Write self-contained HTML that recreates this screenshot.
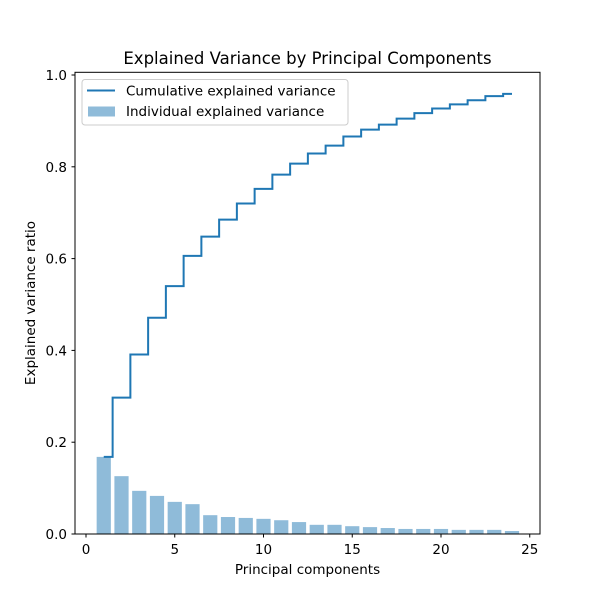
<!DOCTYPE html>
<html><head><meta charset="utf-8"><style>
body{margin:0;background:#fff}
svg{display:block;font-family:"DejaVu Sans","Liberation Sans",sans-serif}
</style></head><body>
<svg id="chart" width="600" height="600" viewBox="0 0 600 600">
<rect width="600" height="600" fill="#fff"/>
<g id="bars"></g>
<path id="cum" fill="none" stroke="#1f77b4" stroke-width="2" stroke-linejoin="miter"/>
<rect x="75" y="72.3" width="465" height="461.7" fill="none" stroke="#000" stroke-width="1"/>
<g id="xticks"></g>
<g id="yticks"></g>
<text x="307.5" y="64" text-anchor="middle" font-size="16.5" fill="#000">Explained Variance by Principal Components</text>
<text x="307.5" y="574" text-anchor="middle" font-size="13.5" fill="#000">Principal components</text>
<text transform="translate(35,303) rotate(-90)" text-anchor="middle" font-size="13.5" fill="#000">Explained variance ratio</text>
<g>
<rect x="82" y="79.5" width="266" height="45.5" rx="3" fill="#fff" fill-opacity="0.8" stroke="#ccc"/>
<line x1="87" y1="90.5" x2="115" y2="90.5" stroke="#1f77b4" stroke-width="2"/>
<text x="126" y="95.5" font-size="13.5" fill="#000">Cumulative explained variance</text>
<rect x="88" y="106.5" width="27" height="10" fill="#1f77b4" fill-opacity="0.5"/>
<text x="126" y="116" font-size="13.5" fill="#000">Individual explained variance</text>
</g>
</svg>
<script>
const components=[1,2,3,4,5,6,7,8,9,10,11,12,13,14,15,16,17,18,19,20,21,22,23,24];
const individual=[0.168,0.126,0.094,0.083,0.070,0.065,0.041,0.037,0.035,0.033,0.030,0.026,0.020,0.020,0.017,0.015,0.013,0.011,0.011,0.011,0.009,0.009,0.009,0.0065];
const cumulative=[0.168,0.297,0.391,0.471,0.540,0.606,0.648,0.685,0.720,0.752,0.783,0.807,0.829,0.846,0.866,0.881,0.892,0.905,0.917,0.927,0.936,0.945,0.954,0.959];
const xTicks=[0,5,10,15,20,25];
const yTicks=[0,0.2,0.4,0.6,0.8,1.0];
const yTickLabels=["0.0","0.2","0.4","0.6","0.8","1.0"];
const NS="http://www.w3.org/2000/svg";
const X=v=>86+v*17.75;
const Y=v=>534-v*459;
const bars=document.getElementById('bars');
components.forEach((c,i)=>{
  const r=document.createElementNS(NS,'rect');
  r.setAttribute('x',X(c-0.4));r.setAttribute('width',0.8*17.75);
  r.setAttribute('y',Y(individual[i]));r.setAttribute('height',Y(0)-Y(individual[i]));
  r.setAttribute('fill','#1f77b4');r.setAttribute('fill-opacity','0.5');
  
  
  bars.appendChild(r);
});
let d='M'+X(components[0])+','+Y(cumulative[0]);
for(let i=0;i<components.length;i++){
  const xl=i==0?components[0]:(components[i-1]+components[i])/2;
  const xr=i==components.length-1?components[i]:(components[i]+components[i+1])/2;
  d+=' L'+X(xl)+','+Y(cumulative[i])+' L'+X(xr)+','+Y(cumulative[i]);
}
document.getElementById('cum').setAttribute('d',d);
const xg=document.getElementById('xticks');
xTicks.forEach(t=>{
  const l=document.createElementNS(NS,'line');
  l.setAttribute('x1',X(t));l.setAttribute('x2',X(t));l.setAttribute('y1',534);l.setAttribute('y2',537.5);l.setAttribute('stroke','#000');
  
  
  xg.appendChild(l);
  const tx=document.createElementNS(NS,'text');
  tx.setAttribute('x',X(t));tx.setAttribute('y',554);tx.setAttribute('text-anchor','middle');tx.setAttribute('font-size','13.5');
  tx.textContent=t;
  
  
  xg.appendChild(tx);
});
const yg=document.getElementById('yticks');
yTicks.forEach((t,i)=>{
  const l=document.createElementNS(NS,'line');
  l.setAttribute('x1',71.5);l.setAttribute('x2',75);l.setAttribute('y1',Y(t));l.setAttribute('y2',Y(t));l.setAttribute('stroke','#000');
  
  
  yg.appendChild(l);
  const tx=document.createElementNS(NS,'text');
  tx.setAttribute('x',67);tx.setAttribute('y',Y(t)+5);tx.setAttribute('text-anchor','end');tx.setAttribute('font-size','13.5');
  tx.textContent=yTickLabels[i];
  
  
  yg.appendChild(tx);
});
</script>
</body></html>
